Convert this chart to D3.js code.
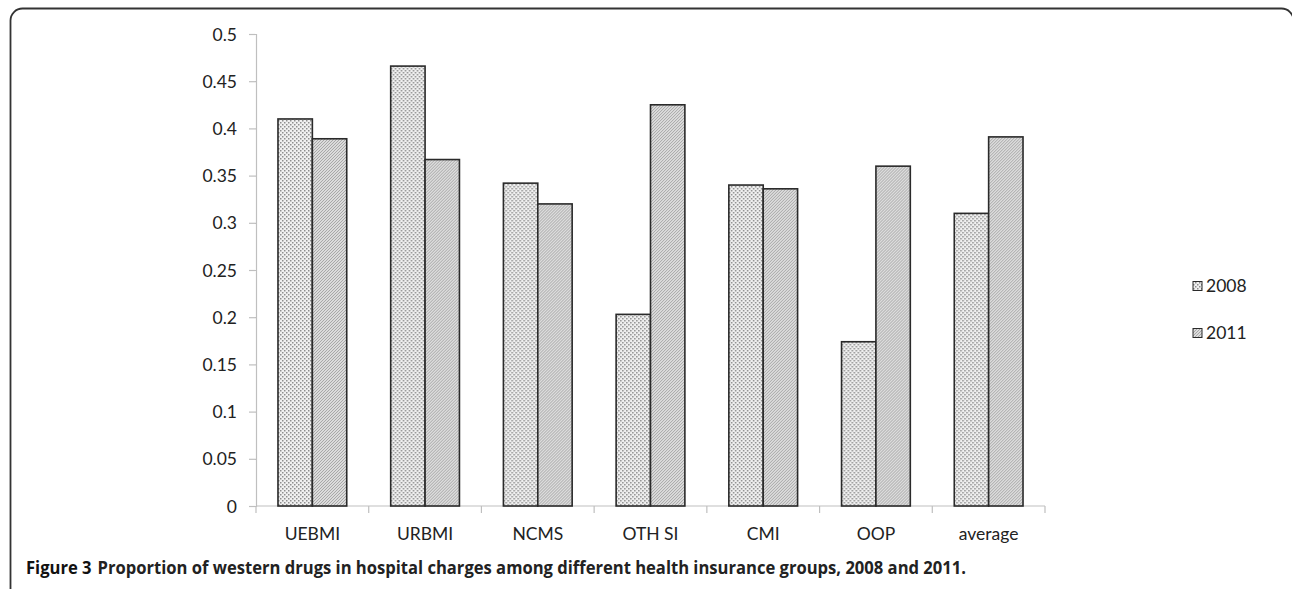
<!DOCTYPE html>
<html>
<head>
<meta charset="utf-8">
<script src="https://cdn.jsdelivr.net/npm/d3@7"></script>
<style>
  body { margin: 0; background: #fff; }
  svg { display: block; }
</style>
</head>
<body>
<div id="chart"><svg></svg></div>
<script>
// categories and values
const categories = ["UEBMI", "URBMI", "NCMS", "OTH SI", "CMI", "OOP", "average"];
const series = ["2008", "2011"];
const values2008 = [0.410, 0.466, 0.342, 0.203, 0.340, 0.174, 0.310];
const values2011 = [0.389, 0.367, 0.320, 0.425, 0.336, 0.360, 0.391];
const yTicks = [0, 0.05, 0.1, 0.15, 0.2, 0.25, 0.3, 0.35, 0.4, 0.45, 0.5];
const captionLead = "Figure 3";
const caption = "Proportion of western drugs in hospital charges among different health insurance groups, 2008 and 2011.";

const W = 1292, H = 589;
const svg = d3.select("#chart svg").attr("width", W).attr("height", H);

// patterns for the two series
const defs = svg.append("defs");
const p1 = defs.append("pattern").attr("id", "dots")
  .attr("patternUnits", "userSpaceOnUse").attr("width", 4).attr("height", 4);
p1.append("rect").attr("width", 4).attr("height", 4).attr("fill", "#f0f0f0");
p1.append("rect").attr("x", 0).attr("y", 0).attr("width", 1.5).attr("height", 1.5).attr("fill", "#8c8c8c");
p1.append("rect").attr("x", 2).attr("y", 2).attr("width", 1.5).attr("height", 1.5).attr("fill", "#8c8c8c");

const p2 = defs.append("pattern").attr("id", "hatch")
  .attr("patternUnits", "userSpaceOnUse").attr("width", 3).attr("height", 3);
p2.append("rect").attr("width", 3).attr("height", 3).attr("fill", "#dcdcdc");
p2.append("path").attr("d", "M-1,1 l2,-2 M0,3 l3,-3 M2,4 l2,-2")
  .attr("stroke", "#a2a2a2").attr("stroke-width", 0.9);

const fills = { "2008": "url(#dots)", "2011": "url(#hatch)" };

// frame
svg.append("rect")
  .attr("x", 10.5).attr("y", 8.5).attr("width", 1283).attr("height", 600)
  .attr("rx", 12).attr("fill", "none").attr("stroke", "#333").attr("stroke-width", 1.8);

const x0 = 256, x1 = 1045, yTop = 34, yBot = 506;

const x = d3.scaleBand().domain(categories).range([x0, x1]).paddingInner(0.39).paddingOuter(0.195);
const xs = d3.scaleBand().domain(series).range([0, x.bandwidth()]);
const y = d3.scaleLinear().domain([0, 0.5]).range([yBot, yTop]);

const font = "Lato, 'Open Sans', sans-serif";

// y axis
const yAxis = svg.append("g").attr("transform", `translate(${x0},0)`)
  .call(d3.axisLeft(y).tickValues(yTicks).tickSize(7).tickFormat(d => String(+d.toFixed(2))));
yAxis.select(".domain").attr("stroke", "#bfbfbf").attr("stroke-width", 1.2);
yAxis.selectAll(".tick line").attr("stroke", "#bfbfbf").attr("stroke-width", 1.2);
yAxis.selectAll(".tick text").attr("x", -19).attr("dy", "0.35em")
  .attr("fill", "#222").style("font", `17.5px ${font}`);

// x axis
const xAxisG = svg.append("g").attr("transform", `translate(0,${yBot})`);
xAxisG.append("line").attr("x1", x0).attr("x2", x1).attr("stroke", "#bfbfbf").attr("stroke-width", 1.2);
const step = x.step();
const tickPos = d3.range(categories.length + 1).map(i => x0 + i * step);
xAxisG.selectAll("line.tk").data(tickPos).join("line").attr("class", "tk")
  .attr("x1", d => d).attr("x2", d => d).attr("y1", 0).attr("y2", 7)
  .attr("stroke", "#bfbfbf").attr("stroke-width", 1.2);
xAxisG.selectAll("text").data(categories).join("text")
  .attr("x", d => x(d) + x.bandwidth() / 2).attr("y", 34)
  .attr("text-anchor", "middle").attr("fill", "#222")
  .style("font", `17.5px ${font}`).text(d => d);

// bars
const rows = categories.map((c, i) => ({ cat: c, vals: [
  { s: "2008", v: values2008[i] }, { s: "2011", v: values2011[i] }] }));
const groups = svg.append("g").selectAll("g").data(rows).join("g")
  .attr("transform", d => `translate(${x(d.cat)},0)`);
groups.selectAll("rect").data(d => d.vals).join("rect")
  .attr("x", d => xs(d.s)).attr("width", xs.bandwidth())
  .attr("y", d => y(d.v)).attr("height", d => y(0) - y(d.v))
  .attr("fill", d => fills[d.s]).attr("stroke", "#2a2a2a").attr("stroke-width", 1.6);

// legend
const legend = svg.append("g").attr("transform", "translate(1193,0)");
const ly = d3.scalePoint().domain(series).range([286, 333]);
legend.selectAll("rect").data(series).join("rect")
  .attr("x", 0).attr("y", d => ly(d) - 4.5).attr("width", 9).attr("height", 9)
  .attr("fill", d => fills[d]).attr("stroke", "#2a2a2a").attr("stroke-width", 1);
legend.selectAll("text").data(series).join("text")
  .attr("x", 13).attr("y", d => ly(d)).attr("dy", "0.35em").attr("fill", "#222")
  .style("font", `17.5px ${font}`).text(d => d);

// caption: two pieces squeezed together to span the reference width
const capFont = "bold 18.5px 'Open Sans', sans-serif";
const capTotal = 940, capX = 26, capY = 574, capGap = 6;
const lead = svg.append("text").attr("y", capY).attr("fill", "#111")
  .style("font", capFont).text(captionLead);
const body = svg.append("text").attr("y", capY).attr("fill", "#222")
  .style("font", capFont).text(caption);
const wLead = lead.node().getComputedTextLength();
const wBody = body.node().getComputedTextLength();
const k = (capTotal - capGap) / (wLead + wBody);
lead.attr("x", capX).attr("textLength", wLead * k).attr("lengthAdjust", "spacingAndGlyphs");
body.attr("x", capX + wLead * k + capGap).attr("textLength", wBody * k).attr("lengthAdjust", "spacingAndGlyphs");
</script>
</body>
</html>
